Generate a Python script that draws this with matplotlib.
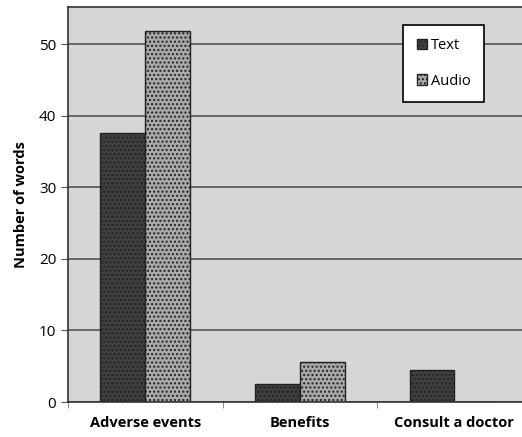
import matplotlib.pyplot as plt
import numpy as np

categories = ['Adverse events', 'Benefits', 'Consult a doctor']
text_words = [37.6, 2.5, 4.5]
audio_words = [51.8, 5.6, 0]

plt.rcParams['font.family'] = ['Open Sans', 'DejaVu Sans']

fig = plt.figure(figsize=(5.22, 4.37), dpi=100)
ax = fig.add_axes([68 / 522, 1 - 402 / 437, 459 / 522, 395 / 437])

ind = np.arange(len(categories))
width = 0.29
ax.set_facecolor('#d6d6d6')
ax.yaxis.grid(True, color='#555555', linewidth=1.2)
ax.set_axisbelow(True)
rects1 = ax.bar(ind - width / 2, text_words, width, color='#3f3f3f',
                edgecolor='#222222', linewidth=1, hatch='....')
rects2 = ax.bar(ind + width / 2, audio_words, width, color='#a9a9a9',
                edgecolor='#222222', linewidth=1, hatch='....')

ax.set_xlim(-0.5, 2.47)
ax.set_ylim(0, 55.2)
ax.set_yticks([0, 10, 20, 30, 40, 50])
ax.set_xticks(ind)
ax.set_xticklabels(categories, fontweight='bold', fontsize=10.5)
ax.tick_params(axis='x', length=0, pad=10)
ax.set_xticks([-0.5, 0.5, 1.5], minor=True)
ax.tick_params(axis='x', which='minor', length=4, color='#777777')
ax.tick_params(axis='y', labelsize=11, length=5, color='#555555')
ax.set_ylabel('Number of words', fontweight='bold', fontsize=10.5, labelpad=8)

for s in ax.spines.values():
    s.set_color('#333333')
    s.set_linewidth(1.2)

# legend box: right edge ~484 px, top ~25 px
leg = ax.legend((rects1[0], rects2[0]), ('Text', 'Audio'), loc='upper right',
                bbox_to_anchor=((484 - 68) / 459, 1 - 18 / 395),
                borderaxespad=0, fancybox=False, edgecolor='black',
                framealpha=1, handlelength=0.7, handleheight=0.7,
                handletextpad=0.3, labelspacing=1.4, borderpad=0.9,
                fontsize=10.5)
leg.get_frame().set_linewidth(1.2)

plt.savefig('out.png')
